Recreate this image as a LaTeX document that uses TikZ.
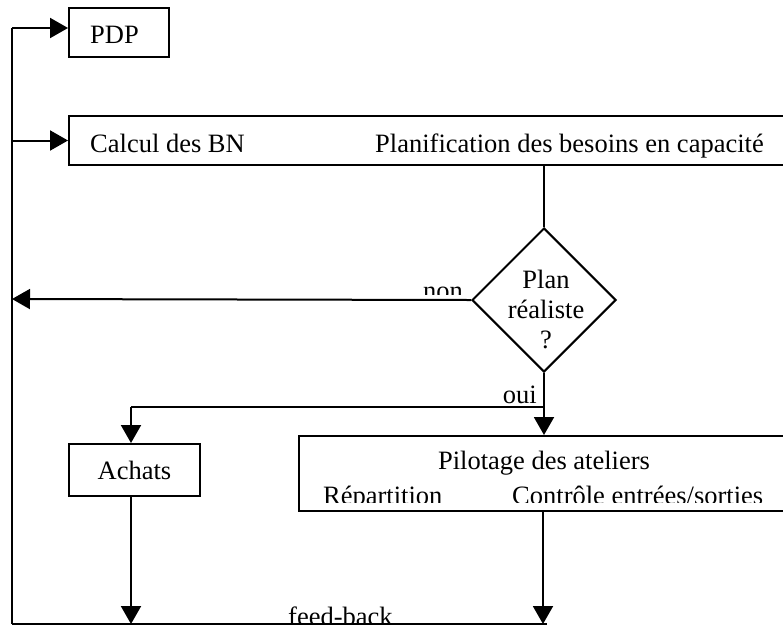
\documentclass[tikz,border=0pt]{standalone}
\usepackage{fontspec}
\setmainfont{Liberation Serif}
\usetikzlibrary{arrows.meta,shapes.geometric}

\tikzset{
  line/.style={line width=2pt},
  arr/.style={line, -{Triangle[length=18pt,width=20pt]}},
  box/.style={draw, line width=2pt, inner sep=0pt},
  txt/.style={inner sep=0pt, font=\fontsize{26.5}{30}\selectfont},
}

\begin{document}
\begin{tikzpicture}[x=1pt, y=-1pt]
\useasboundingbox (0,0) rectangle (783,630);
\clip (0,0) rectangle (783,630);

% boxes
\node[box, minimum width=100pt, minimum height=49pt] (pdp) at (119,32.5) {};
\node[txt, anchor=base west] (pdptxt) at (90,43.5) {PDP};
\node[box, minimum width=731pt, minimum height=49pt] (calc) at (434.5,140.5) {};
\node[txt, anchor=base west] (calcbn) at (90,152) {Calcul des BN};
\node[txt, anchor=base west] (pbc) at (375,152) {Planification des besoins en capacité};

\node[draw, line width=2pt, diamond, minimum width=144pt, minimum height=144pt, inner sep=0pt] (dec) at (544,300) {};
\node[txt, align=center, anchor=base] (dectxt) at (546,348) {Plan\\réaliste\\?};

\node[box, minimum width=131pt, minimum height=52pt, txt] (ach) at (134.5,470) {Achats};
\node[box, minimum width=501pt, minimum height=75pt] (pil) at (549.5,473.5) {};
\node[txt, anchor=base] (piltxt) at (544,469) {Pilotage des ateliers};
\begin{scope}
  \clip (300,440) rectangle (783,502);
  \node[txt, anchor=base west] (rep) at (323,504) {Répartition};
  \node[txt, anchor=base west] (ctl) at (512,504) {Contrôle entrées/sorties};
\end{scope}

% coordinates of the loop
\coordinate (ltop) at (12,28);
\coordinate (lcal) at (12,140.5);
\coordinate (lnon) at (12,299);
\coordinate (lbot) at (12,624);
\coordinate (split) at (543,407);
\coordinate (achsplit) at (131,407);
\coordinate (achbot) at (131,624);
\coordinate (pilbot) at (543,624);
\coordinate (bend) at (547,624);

% connectors
\draw[line] (lbot) -- (ltop);
\draw[arr] (ltop) -- (ltop -| pdp.west);
\draw[arr] (lcal) -- (calc.west);
\draw[line] (calc.south -| dec.north) -- (dec.north);
\draw[arr] (dec.west) -- (lnon);
\draw[arr] (dec.south) -- (dec.south |- pil.north);
\draw[line] (split) -- (achsplit);
\draw[arr] (achsplit) -- (ach.north -| achsplit);
\draw[arr] (ach.south -| achbot) -- (achbot);
\draw[arr] (pil.south -| pilbot) -- (pilbot);
\draw[line] (lbot) -- (bend);

% labels
\begin{scope}
  \clip (400,270) rectangle (470,294.5);
  \node[txt, anchor=base east] (non) at (463,299) {non};
\end{scope}
\node[txt, anchor=base east] (oui) at (537,403) {oui};
\begin{scope}
  \clip (280,595) rectangle (400,622.5);
  \node[txt, anchor=base west] (fb) at (288,625) {feed-back};
\end{scope}
\end{tikzpicture}
\end{document}
